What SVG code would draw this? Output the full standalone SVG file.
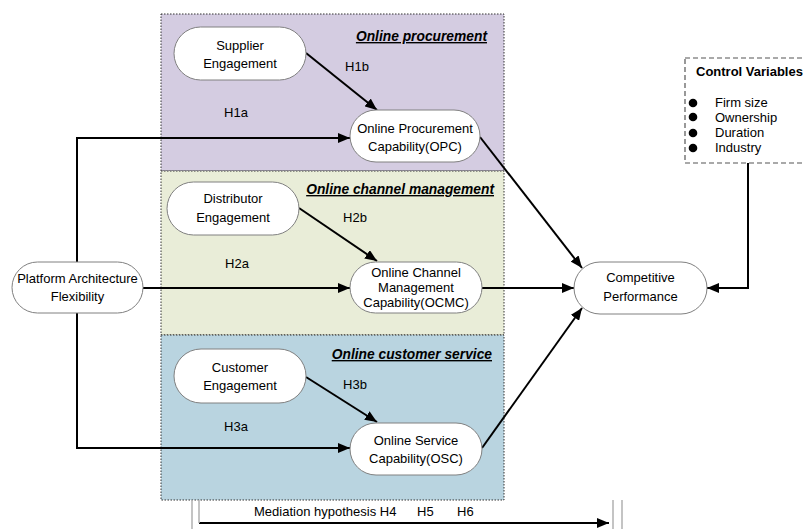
<svg xmlns="http://www.w3.org/2000/svg" width="803" height="529" viewBox="0 0 803 529">
<defs>
<style>
text{font-family:"Liberation Sans",Arial,sans-serif;font-size:13px;fill:#000}
.c{text-anchor:middle}
.node{fill:#fff;stroke:#808080;stroke-width:1}
.panel{stroke:#333;stroke-width:1;stroke-dasharray:1.5 1.5}
.lbl{font-weight:bold;font-style:italic;font-size:13.8px;text-anchor:end;text-decoration:underline}
.edge{fill:none;stroke:#000;stroke-width:2}
.gray{stroke:#b0b0b0;stroke-width:1.5;fill:none}
</style>
<marker id="ah" viewBox="0 0 12 10" refX="12" refY="5" markerWidth="12" markerHeight="10" markerUnits="userSpaceOnUse" orient="auto">
<path d="M0,0 L12,5 L0,10 Z" fill="#000"/>
</marker>
</defs>
<rect width="803" height="529" fill="#fff"/>
<g id="panels">
<rect id="panel-procurement" class="panel" x="161" y="14" width="343" height="157" fill="#d4cce1"/>
<rect id="panel-channel" class="panel" x="161" y="171" width="343" height="164" fill="#e9edd8"/>
<rect id="panel-service" class="panel" x="161" y="335" width="343" height="165" fill="#b9d4e0"/>
<text class="lbl" x="487" y="41">Online procurement</text>
<text class="lbl" x="494" y="194">Online channel management</text>
<text class="lbl" x="492" y="359">Online customer service</text>
</g>
<g id="connectors">
<line class="edge" x1="306" y1="53" x2="377" y2="110" marker-end="url(#ah)"/>
<line class="edge" x1="299" y1="208" x2="377" y2="261" marker-end="url(#ah)"/>
<line class="edge" x1="306" y1="377" x2="377" y2="422" marker-end="url(#ah)"/>
<polyline class="edge" points="77,262 77,138 350,138" marker-end="url(#ah)"/>
<line class="edge" x1="143" y1="288" x2="350" y2="288" marker-end="url(#ah)"/>
<polyline class="edge" points="77,313 77,448 350,448" marker-end="url(#ah)"/>
<line class="edge" x1="480" y1="137" x2="582" y2="268" marker-end="url(#ah)"/>
<line class="edge" x1="482" y1="288" x2="574" y2="288" marker-end="url(#ah)"/>
<line class="edge" x1="482" y1="448" x2="582" y2="308" marker-end="url(#ah)"/>
<polyline class="edge" points="748,163 748,288 707,288" marker-end="url(#ah)"/>
<line class="edge" x1="199" y1="523" x2="609" y2="523" marker-end="url(#ah)"/>
<line class="gray" x1="192" y1="500" x2="192" y2="529"/>
<line class="gray" x1="199" y1="500" x2="199" y2="523"/>
<line class="gray" x1="613" y1="500" x2="613" y2="529"/>
<line class="gray" x1="622" y1="500" x2="622" y2="529"/>
<text x="236" y="117" class="c">H1a</text>
<text x="357" y="71" class="c">H1b</text>
<text x="237" y="268" class="c">H2a</text>
<text x="355" y="222" class="c">H2b</text>
<text x="236" y="431" class="c">H3a</text>
<text x="355" y="389" class="c">H3b</text>
<text x="254" y="516">Mediation hypothesis H4</text>
<text x="417" y="516">H5</text>
<text x="457" y="516">H6</text>
</g>
<g id="supplier">
<rect class="node" x="174" y="27" width="132" height="53" rx="26.5"/>
<text class="c" x="240" y="50">Supplier</text>
<text class="c" x="240" y="68">Engagement</text>
</g>
<g id="opc">
<rect class="node" x="350" y="110" width="130" height="52" rx="26"/>
<text class="c" x="415" y="133">Online Procurement</text>
<text class="c" x="415" y="151">Capability(OPC)</text>
</g>
<g id="distributor">
<rect class="node" x="167" y="182" width="132" height="53" rx="26.5"/>
<text class="c" x="233" y="203">Distributor</text>
<text class="c" x="233" y="222">Engagement</text>
</g>
<g id="ocmc">
<rect class="node" x="350" y="262" width="132" height="51" rx="25.5"/>
<text class="c" x="416" y="277">Online Channel</text>
<text class="c" x="416" y="292">Management</text>
<text class="c" x="416" y="307">Capability(OCMC)</text>
</g>
<g id="customer">
<rect class="node" x="174" y="349" width="132" height="54" rx="27"/>
<text class="c" x="240" y="372">Customer</text>
<text class="c" x="240" y="390">Engagement</text>
</g>
<g id="osc">
<rect class="node" x="350" y="423" width="132" height="52" rx="26"/>
<text class="c" x="416" y="445">Online Service</text>
<text class="c" x="416" y="463">Capability(OSC)</text>
</g>
<g id="platform">
<rect class="node" x="12" y="262" width="131" height="51" rx="25.5"/>
<text class="c" x="77.5" y="283">Platform Architecture</text>
<text class="c" x="77.5" y="301">Flexibility</text>
</g>
<g id="performance">
<rect class="node" x="574" y="262" width="133" height="52" rx="26"/>
<text class="c" x="640.5" y="282">Competitive</text>
<text class="c" x="640.5" y="301">Performance</text>
</g>
<g id="controls">
<rect x="685" y="58" width="130" height="105" fill="#fff" stroke="#555" stroke-width="1.2" stroke-dasharray="5 3"/>
<text x="696" y="76" style="font-weight:bold">Control Variables</text>
<circle cx="693" cy="103" r="4.3"/>
<circle cx="693" cy="117" r="4.3"/>
<circle cx="693" cy="133" r="4.3"/>
<circle cx="693" cy="148" r="4.3"/>
<text x="715" y="107">Firm size</text>
<text x="715" y="122">Ownership</text>
<text x="715" y="137">Duration</text>
<text x="715" y="152">Industry</text>
</g>
</svg>
